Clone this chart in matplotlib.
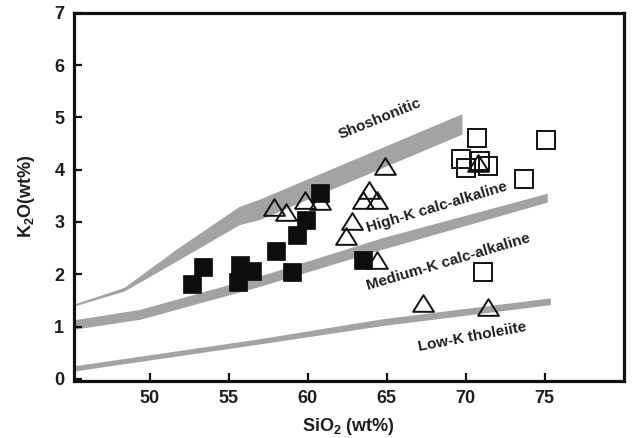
import matplotlib
matplotlib.use("Agg")
import matplotlib.pyplot as plt
from matplotlib.path import Path

plt.rcParams['font.family'] = ['Liberation Sans', 'DejaVu Sans']
plt.rcParams['font.weight'] = 'bold'
plt.rcParams['mathtext.fontset'] = 'custom'
plt.rcParams['mathtext.rm'] = 'Liberation Sans:bold'
plt.rcParams['mathtext.it'] = 'Liberation Sans:bold'
plt.rcParams['mathtext.bf'] = 'Liberation Sans:bold'

# ---- data (SiO2 wt%, K2O wt%) ----
filled_sq_x = [52.7, 53.4, 55.6, 55.7, 56.5, 58.0, 59.0, 59.3, 59.9, 60.8, 63.5]
filled_sq_y = [1.82, 2.14, 1.85, 2.18, 2.07, 2.45, 2.05, 2.75, 3.04, 3.56, 2.28]

tri_x = [57.85, 58.6, 59.8, 60.8, 64.9, 63.9, 63.5, 64.4, 62.8, 62.4, 64.4, 67.3, 71.4, 70.8]
tri_y = [3.29, 3.19, 3.42, 3.40, 4.07, 3.61, 3.42, 3.42, 3.02, 2.73, 2.28, 1.45, 1.38, 4.13]

open_sq_x = [70.7, 75.1, 69.7, 70.0, 70.9, 71.4, 73.7, 71.1]
open_sq_y = [4.60, 4.57, 4.20, 4.03, 4.16, 4.07, 3.82, 2.05]

# boundary bands (x, upper edge, lower edge)
shos_x = [45.2, 48.4, 51.7, 55.7, 57.0, 69.8]
shos_top = [1.42, 1.74, 2.47, 3.29, 3.43, 5.06]
shos_bot = [1.38, 1.67, 2.24, 2.94, 3.04, 4.67]

medk_x = [45.2, 49.4, 57.0, 64.75, 75.2]
medk_top = [1.12, 1.32, 1.96, 2.69, 3.54]
medk_bot = [0.94, 1.13, 1.76, 2.47, 3.37]

lowk_x = [45.2, 57.0, 64.75, 75.4]
lowk_top = [0.24, 0.76, 1.14, 1.54]
lowk_bot = [0.14, 0.66, 1.01, 1.41]

band_labels = ["Shoshonitic", "High-K calc-alkaline", "Medium-K calc-alkaline", "Low-K tholeiite"]
label_x = [64.6, 68.2, 68.9, 70.45]
label_y = [4.98, 3.28, 2.23, 0.80]
label_rot = [22, 16.7, 16.5, 10.6]

x_ticks = [50, 55, 60, 65, 70, 75]
y_ticks = [0, 1, 2, 3, 4, 5, 6, 7]

# ---- figure ----
fig = plt.figure(figsize=(6.33, 4.38), dpi=100)
ax = fig.add_axes([74 / 633, 1 - 380.5 / 438, (623.5 - 74) / 633, (380.5 - 12.7) / 438])

band_color = '#a3a3a3'
for bx, bt, bb in [(shos_x, shos_top, shos_bot), (medk_x, medk_top, medk_bot), (lowk_x, lowk_top, lowk_bot)]:
    ax.fill(list(bx) + list(bx[::-1]), list(bt) + list(bb[::-1]), color=band_color, lw=0, zorder=1)

tri = Path([(-1, -0.8), (1, -0.8), (0, 0.8), (-1, -0.8)],
           [Path.MOVETO, Path.LINETO, Path.LINETO, Path.CLOSEPOLY])

ax.plot(open_sq_x, open_sq_y, ls='none', marker='s', ms=12.3, mfc='none', mec='#111111', mew=1.4, zorder=3)
ax.plot(tri_x, tri_y, ls='none', marker=tri, ms=15, mfc='none', mec='#111111', mew=1.4, zorder=3)
ax.plot(filled_sq_x, filled_sq_y, ls='none', marker='s', ms=12.5, mfc='#0d0d0d', mec='#0d0d0d', mew=0.5, zorder=4)

for t, lx, ly, r in zip(band_labels, label_x, label_y, label_rot):
    ax.text(lx, ly, t, rotation=r, ha='center', va='center', fontsize=11,
            fontweight='bold', color='#1e1e1e', rotation_mode='anchor', zorder=5)

ax.set_xlim(45.2, 80.0)
ax.set_ylim(-0.03, 7.0)
ax.set_xticks(x_ticks)
ax.set_yticks(y_ticks)
ax.tick_params(direction='in', length=6, width=1.6, labelsize=13, pad=7, color='#111111')
for lab in ax.get_xticklabels() + ax.get_yticklabels():
    lab.set_fontweight('bold')
    lab.set_color('#1e1e1e')
for s in ax.spines.values():
    s.set_linewidth(2.3)
    s.set_color('#111111')

ax.set_xlabel(r'SiO$_2$ (wt%)', fontsize=13, fontweight='bold', color='#1e1e1e', labelpad=6)
ax.set_ylabel(r'K$_2$O(wt%)', fontsize=13, fontweight='bold', color='#1e1e1e', labelpad=12)

fig.savefig('out.png', dpi=100)
